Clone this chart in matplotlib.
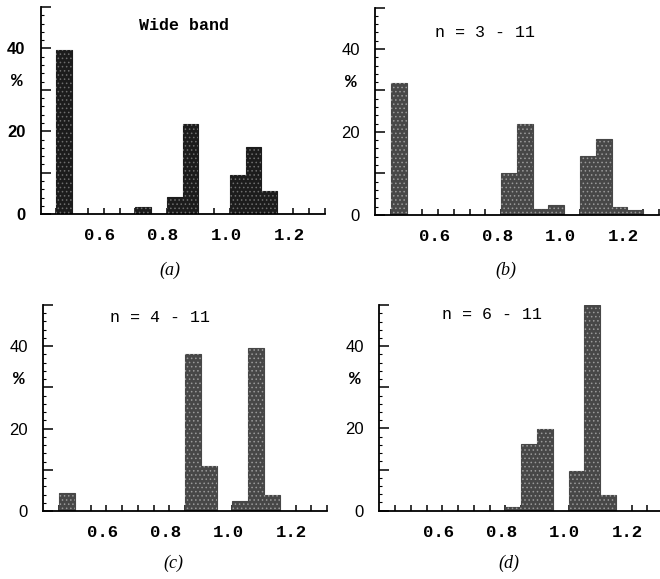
import matplotlib
matplotlib.use("Agg")
import matplotlib.pyplot as plt
import matplotlib.transforms as mtrans
import numpy as np

# ============================================
# DATA (percent of cases per 0.05-wide bin, left bin edge)
# ============================================
a_left = [0.45, 0.70, 0.80, 0.85, 1.00, 1.05, 1.10]
a_pct = [39.5, 1.7, 4.2, 21.8, 9.4, 16.1, 5.5]

b_left = [0.45, 0.80, 0.85, 0.90, 0.95, 1.05, 1.10, 1.15, 1.20]
b_pct = [31.8, 10.1, 21.9, 1.4, 2.3, 14.2, 18.4, 2.0, 1.2]

c_left = [0.45, 0.85, 0.90, 1.00, 1.05, 1.10]
c_pct = [4.3, 38.2, 10.9, 2.5, 39.6, 4.0]

d_left = [0.80, 0.85, 0.90, 1.00, 1.05, 1.10]
d_pct = [0.8, 16.2, 19.8, 9.7, 50.0, 3.8]

titles = ["Wide band", "n = 3 - 11", "n = 4 - 11", "n = 6 - 11"]
tags = ["(a)", "(b)", "(c)", "(d)"]
x_ticklabels = ["0.6", "0.8", "1.0", "1.2"]
x_tickvals = [0.6, 0.8, 1.0, 1.2]
y_labelvals = [0, 20, 40]

BIN = 0.05
MONO = "Liberation Mono"

plt.rcParams["hatch.linewidth"] = 0.6

fig = plt.figure(figsize=(6.6, 5.79), dpi=100)

# axes boxes in figure fractions
boxes = [
    [0.0617, 0.630, 0.430, 0.358],
    [0.5682, 0.629, 0.430, 0.358],
    [0.0656, 0.1174, 0.430, 0.356],
    [0.5747, 0.1180, 0.430, 0.355],
]
panels = [(a_left, a_pct), (b_left, b_pct), (c_left, c_pct), (d_left, d_pct)]
face = ["#1c1c1c", "#474747", "#474747", "#474747"]
dots = ["#6e6e6e", "#9a9a9a", "#9a9a9a", "#9a9a9a"]
title_pos = [(0.853, 45.6), (0.75, 44.0), (0.77, 47.0), (0.757, 47.7)]
tag_pos = [(170, 270), (506, 270), (173, 563), (509, 563)]

# printed x labels sit a little left of their ticks
shift = mtrans.ScaledTranslation(-4 / 100, 0, fig.dpi_scale_trans)

for i, (left, pct) in enumerate(panels):
    ax = fig.add_axes(boxes[i])
    ax.bar(left, pct, width=BIN, align="edge", color=face[i],
           edgecolor=face[i], linewidth=0.8, zorder=2)
    # stipple texture of the printed bars
    ax.bar(left, pct, width=BIN, align="edge", fill=False,
           hatch="....", edgecolor=dots[i], linewidth=0, zorder=3)

    ax.set_xlim(0.4, 1.3)
    ax.set_ylim(0, 50)
    for side in ["top", "right"]:
        ax.spines[side].set_visible(False)
    ax.spines["left"].set_linewidth(1.3)
    ax.spines["bottom"].set_linewidth(1.3)

    # x ticks every bin, labels only on 0.2 steps
    xt = np.arange(0.45, 1.301, BIN)
    ax.set_xticks(xt)
    ax.set_xticklabels([x_ticklabels[x_tickvals.index(round(v, 2))]
                        if round(v, 2) in x_tickvals else "" for v in xt],
                       fontfamily=MONO, fontweight="bold", fontsize=12.5)
    ax.tick_params(axis="x", direction="in", length=4, width=1.1, pad=10)
    for lab in ax.get_xticklabels():
        lab.set_transform(lab.get_transform() + shift)

    yt = np.arange(0, 51, 10)
    ax.set_yticks(yt)
    ax.set_yticks(np.arange(0, 51, 2), minor=True)
    ax.set_yticklabels([str(int(v)) if v in y_labelvals else "" for v in yt],
                       fontfamily="Liberation Sans",
                       fontweight="bold" if i == 0 else "normal",
                       fontsize=12)
    ax.tick_params(axis="y", which="major", direction="in", length=7,
                   width=1.1, pad=11)
    ax.tick_params(axis="y", which="minor", direction="in", length=2.5,
                   width=0.8)

    ax.text(-0.085, 32, "%", transform=ax.get_yaxis_transform(),
            ha="center", va="center", fontfamily=MONO, fontweight="bold",
            fontsize=14)

    tx, ty = title_pos[i]
    ax.text(tx, ty, titles[i], ha="center", va="center", fontfamily=MONO,
            fontweight="bold" if i == 0 else "normal", fontsize=12)

    px, py = tag_pos[i]
    fig.text(px / 660, 1 - py / 579, tags[i], ha="center", va="center",
             fontfamily="Liberation Serif", style="italic", fontsize=13)

fig.savefig("out.png", dpi=100)
